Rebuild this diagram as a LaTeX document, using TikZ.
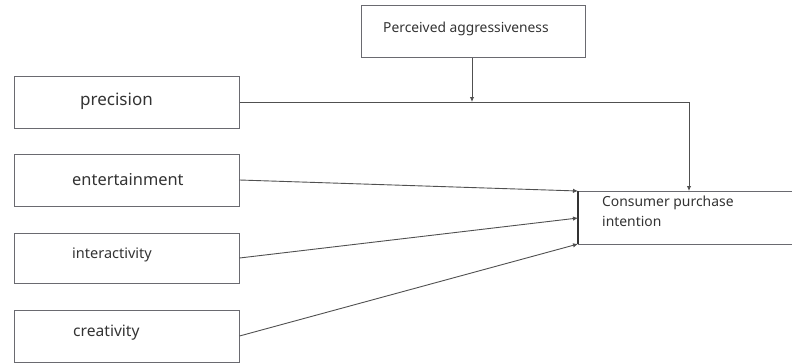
\documentclass[tikz,border=0pt]{standalone}
\usepackage{fontspec}
\setmainfont{Noto Sans}
\usetikzlibrary{arrows.meta}
\definecolor{edge}{HTML}{6A6A70}
\definecolor{ink}{HTML}{333333}
\definecolor{arr}{HTML}{505050}
\tikzset{
  box/.style={draw=edge, line width=1pt, rectangle, inner sep=0pt},
  txt/.style={text=ink, inner sep=0pt, anchor=west},
  conn/.style={draw=arr, line width=0.9pt, -{Latex[length=5pt,width=4.5pt]}},
  plain/.style={draw=arr, line width=0.9pt}
}
\begin{document}
\begin{tikzpicture}[x=1pt,y=-1pt]
\useasboundingbox (0,0) rectangle (792,362);
% boxes
\node[box, minimum width=224pt, minimum height=52pt] (agg) at (473,31) {};
\node[txt, font=\fontsize{13.8}{16}\selectfont] (aggt) at (383,29) {Perceived aggressiveness};
\node[box, minimum width=225pt, minimum height=52pt] (prec) at (126.5,102) {};
\node[txt, font=\fontsize{17}{19}\selectfont] (prect) at (80,101) {precision};
\node[box, minimum width=225pt, minimum height=52pt] (ent) at (126.5,180) {};
\node[txt, font=\fontsize{16.4}{18}\selectfont] (entt) at (72,180) {entertainment};
\node[box, minimum width=225pt, minimum height=50pt] (int) at (126.5,258) {};
\node[txt, font=\fontsize{14.5}{16}\selectfont] (intt) at (72,255) {interactivity};
\node[box, minimum width=225pt, minimum height=52pt] (cre) at (126.5,336) {};
\node[txt, font=\fontsize{15.6}{17}\selectfont] (cret) at (73,333) {creativity};
% consumer box (open to the right)
\coordinate (cTL) at (578,191);
\coordinate (cBL) at (578,244);
\coordinate (cTR) at (793,191);
\coordinate (cBR) at (793,244);
\draw[edge, line width=1pt] (cTR) -- (cTL);
\draw[edge, line width=1pt] (cBR) -- (cBL);
\draw[ink, line width=1.4pt] (cTL) -- (cBL);
\node[txt, font=\fontsize{13.9}{19.5}\selectfont, align=left, anchor=north west] (cons) at (602,196) {Consumer purchase\\intention};
% connectors
\coordinate (pj) at (472,102);
\coordinate (pc) at (689,102);
\coordinate (pe) at (689,191);
\coordinate (ei) at (578,218);
\draw[conn] (agg.south -| pj) -- (pj);
\draw[plain] (prec.east) -- (pc);
\draw[conn] (pc) -- (pe);
\draw[conn] (ent.east) -- (cTL);
\draw[conn] (int.east) -- (ei);
\draw[conn] (cre.east) -- (cBL);
\end{tikzpicture}
\end{document}
